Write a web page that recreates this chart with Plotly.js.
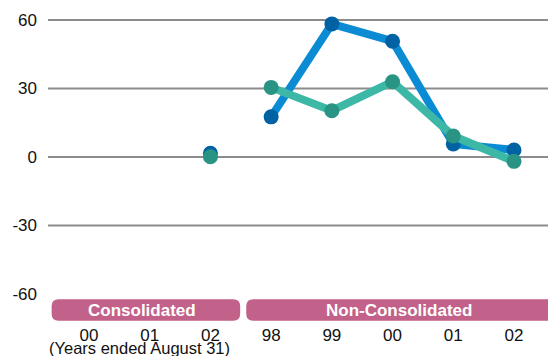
<!DOCTYPE html>
<html>
<head>
<meta charset="utf-8">
<script src="https://cdn.plot.ly/plotly-3.0.1.min.js"></script>
<style>
  html, body { margin: 0; padding: 0; background: #ffffff; }
  #chart { width: 548px; height: 356px; }
</style>
</head>
<body>
<div id="chart"></div>
<script>
// Fiscal-year labels along the x axis (consolidated 00–02, non-consolidated 98–02)
const yearLabels = ['00', '01', '02', '98', '99', '00', '01', '02'];

// Consolidated period: only fiscal 02 carries values
const consolidatedIdx = [2];
const consolidatedBlue = [1.6];
const consolidatedGreen = [0.1];

// Non-consolidated period: fiscal 98 to 02
const nonConsolidatedIdx = [3, 4, 5, 6, 7];
const nonConsolidatedBlue = [17.6, 58.3, 50.7, 5.7, 3.1];
const nonConsolidatedGreen = [30.5, 20.3, 33.0, 9.2, -1.9];

// Y axis ticks and the horizontal rules drawn at them
const yTicks = [60, 30, 0, -30, -60];
const gridValues = [60, 30, 0, -30];

// Group bands under the plot
const groupNames = ['Consolidated', 'Non-Consolidated'];
const groupStart = [-0.615, 2.59];
const groupEnd = [2.49, 7.8];
const groupLabelX = [0.88, 5.1];

const BLUE_LINE = '#0A8BD3', BLUE_MARK = '#0062A3';
const GREEN_LINE = '#3DB8A7', GREEN_MARK = '#2A9484';
const BAND = '#C26189';

function series(x, y, lineColor, markColor) {
  return {
    type: 'scatter', mode: 'lines+markers', x: x, y: y,
    line: { color: lineColor, width: 8 },
    marker: { color: markColor, size: 15 },
    cliponaxis: false, hoverinfo: 'skip', showlegend: false
  };
}

const traces = [
  series(consolidatedIdx, consolidatedBlue, BLUE_LINE, BLUE_MARK),
  series(nonConsolidatedIdx, nonConsolidatedBlue, BLUE_LINE, BLUE_MARK),
  series(consolidatedIdx, consolidatedGreen, GREEN_LINE, GREEN_MARK),
  series(nonConsolidatedIdx, nonConsolidatedGreen, GREEN_LINE, GREEN_MARK)
];

// Plot geometry (pixels) used to size the bands and rules
const W = 548, H = 356;
const M = { l: 48, r: 0, t: 11, b: 62 };
const plotH = H - M.t - M.b;
function pyToPaper(py) { return (H - M.b - py) / plotH; }

const shapes = [];
gridValues.forEach(v => {
  shapes.push({
    type: 'line', xref: 'paper', yref: 'y', x0: 0, x1: 1, y0: v, y1: v,
    line: { color: '#8C8C8C', width: 2 }, layer: 'below'
  });
});

// Rounded band behind each group name
const bandTop = pyToPaper(299.3), bandBot = pyToPaper(320.7);
const rx = 7 / 60.8, ry = 7 / plotH;
groupNames.forEach((name, i) => {
  const x0 = groupStart[i], x1 = groupEnd[i];
  const path =
    `M ${x0 + rx},${bandTop} L ${x1 - rx},${bandTop} Q ${x1},${bandTop} ${x1},${bandTop - ry} ` +
    `L ${x1},${bandBot + ry} Q ${x1},${bandBot} ${x1 - rx},${bandBot} ` +
    `L ${x0 + rx},${bandBot} Q ${x0},${bandBot} ${x0},${bandBot + ry} ` +
    `L ${x0},${bandTop - ry} Q ${x0},${bandTop} ${x0 + rx},${bandTop} Z`;
  shapes.push({
    type: 'path', xref: 'x', yref: 'paper', path: path,
    fillcolor: BAND, line: { width: 0 }, layer: 'above'
  });
});

const annotations = groupNames.map((name, i) => ({
  xref: 'x', yref: 'paper', x: groupLabelX[i], y: pyToPaper(310.3),
  text: '<b>' + name + '</b>', showarrow: false,
  font: { family: 'Liberation Sans, Arial, sans-serif', size: 17, color: '#ffffff' },
  xanchor: 'center', yanchor: 'middle'
}));
annotations.push({
  xref: 'x', yref: 'paper', x: 0.83, y: pyToPaper(347.5),
  text: '(Years ended August 31)', showarrow: false,
  font: { family: 'Liberation Sans, Arial, sans-serif', size: 16.5, color: '#111111' },
  xanchor: 'center', yanchor: 'middle'
});

const layout = {
  width: W, height: H,
  margin: M,
  paper_bgcolor: '#ffffff', plot_bgcolor: '#ffffff',
  font: { family: 'Liberation Sans, Arial, sans-serif', size: 17, color: '#111111' },
  xaxis: {
    range: [-0.675, 7.56], tickmode: 'array',
    tickvals: yearLabels.map((_, i) => i), ticktext: yearLabels,
    showgrid: false, zeroline: false, showline: false, ticks: '',
    ticklabelstandoff: 29, fixedrange: true
  },
  yaxis: {
    range: [-60, 63.96], tickmode: 'array', tickvals: yTicks,
    ticktext: yTicks.map(String),
    showgrid: false, zeroline: false, showline: false, ticks: '',
    ticklabelstandoff: 10, fixedrange: true
  },
  shapes: shapes,
  annotations: annotations,
  showlegend: false
};

Plotly.newPlot('chart', traces, layout, { staticPlot: true, displayModeBar: false });
</script>
</body>
</html>
